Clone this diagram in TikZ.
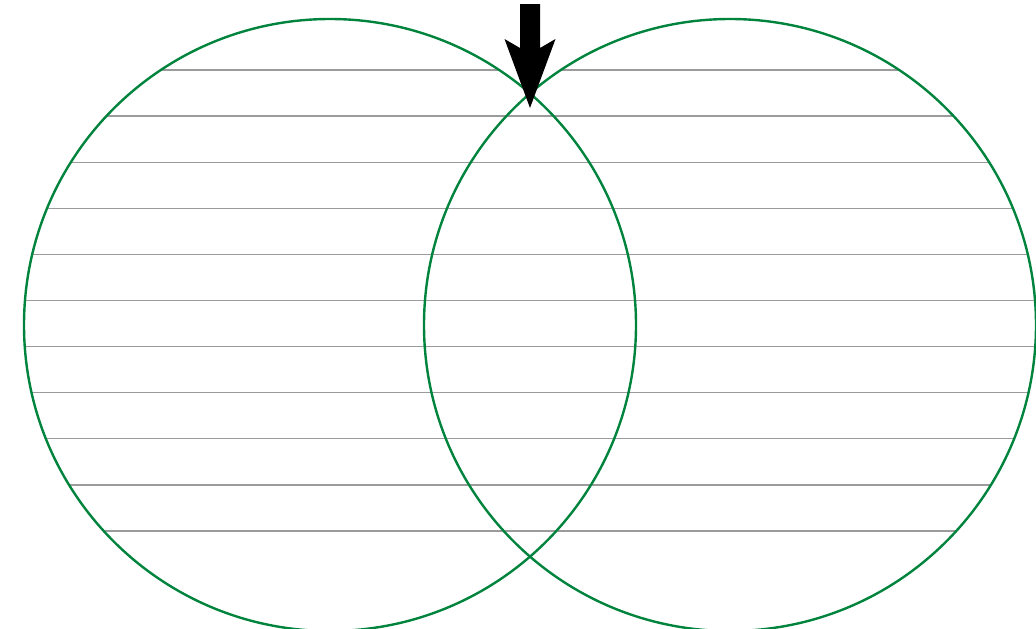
\documentclass[tikz,border=0pt]{standalone}
\usepackage{xcolor}
\definecolor{venngreen}{RGB}{0,132,61}
\definecolor{hatchgray}{RGB}{155,155,155}
\begin{document}
\begin{tikzpicture}[x=1pt,y=-1pt,
  ring/.style={draw=venngreen,line width=2.4pt},
  hatch/.style={draw=hatchgray,line width=1.3pt}]
\useasboundingbox (0,0) rectangle (1036,629);
\clip (0,0) rectangle (1036,629);
\coordinate (cl) at (330,325);
\coordinate (cr) at (730,325);
% hatch lines in the left circle
\begin{scope}
  \clip (cl) circle[radius=306];
  \foreach \k in {0,...,10}{
    \draw[hatch] (0,{70+46.1*\k}) -- (1036,{70+46.1*\k});
  }
\end{scope}
% hatch lines in the right circle, outside the left one
\begin{scope}
  \clip (cr) circle[radius=306];
  \begin{scope}[even odd rule]
    \clip (cl) circle[radius=306] (-10,-10) rectangle (1046,639);
    \foreach \k in {0,...,10}{
      \draw[hatch] (0,{70+46.1*\k}) -- (1036,{70+46.1*\k});
    }
  \end{scope}
\end{scope}
\draw[ring] (cl) circle[radius=306];
\draw[ring] (cr) circle[radius=306];
% arrow
\coordinate (tip) at (530,108);
\fill[black] (520,4) -- (540,4) -- (540,48) -- (555.5,39) -- (tip) -- (504.5,39) -- (520,48) -- cycle;
\end{tikzpicture}
\end{document}
